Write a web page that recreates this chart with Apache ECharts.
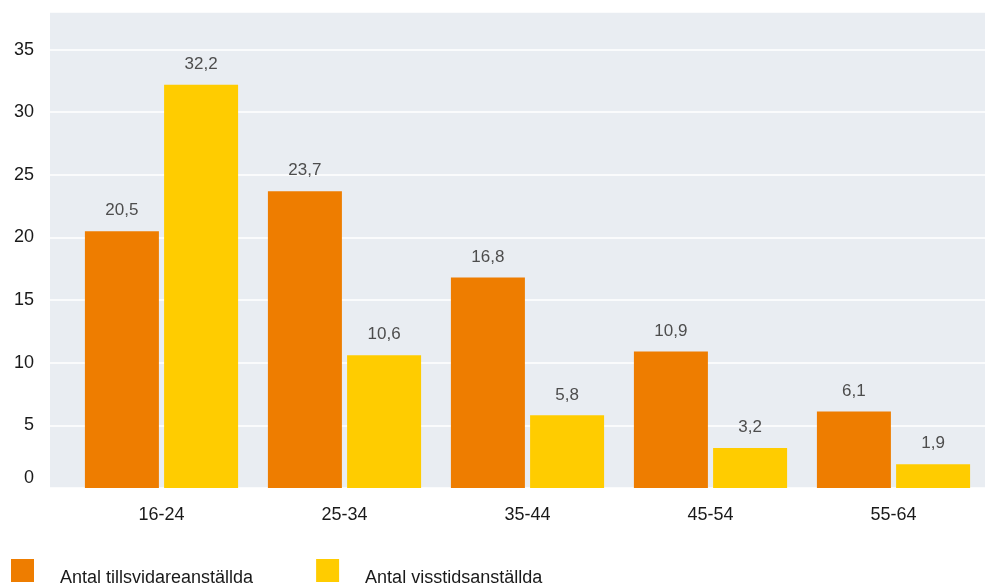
<!DOCTYPE html>
<html>
<head>
<meta charset="utf-8">
<script src="https://cdn.jsdelivr.net/npm/echarts@6/dist/echarts.min.js"></script>
<style>
  html, body { margin: 0; padding: 0; background: #fff; }
  #chart { width: 985px; height: 584px; }
</style>
</head>
<body>
<div id="chart"></div>
<script>
const categories = ['16-24', '25-34', '35-44', '45-54', '55-64'];
const seriesNames = ['Antal tillsvidareanställda', 'Antal visstidsanställda'];
const permanent = [20.5, 23.7, 16.8, 10.9, 6.1];
const temporary = [32.2, 10.6, 5.8, 3.2, 1.9];

const chart = echarts.init(document.getElementById('chart'));
const font = '"Liberation Sans", Arial, sans-serif';
const fmt = p => String(p.value).replace('.', ',');

const barLabel = {
  show: true,
  position: 'top',
  distance: 12,
  color: '#4d4d4d',
  fontSize: 17,
  fontFamily: font,
  formatter: fmt
};

const option = {
  animation: false,
  grid: [
    { left: 50, right: 0, top: 12, bottom: 96, show: true, backgroundColor: '#e9edf2', borderWidth: 0 },
    { left: 70, right: 0, top: 12, bottom: 96 }
  ],
  legend: {
    left: 6,
    top: 554,
    itemWidth: 23,
    itemHeight: 23,
    itemGap: 63,
    icon: 'rect',
    selectedMode: false,
    formatter: name => '{t|' + name + '}',
    textStyle: {
      fontSize: 18,
      color: '#1a1a1a',
      fontFamily: font,
      padding: [0, 0, 0, 21],
      rich: { t: { fontSize: 18, color: '#1a1a1a', fontFamily: font, padding: [16, 0, 0, 0] } }
    },
    data: seriesNames
  },
  xAxis: [
    { gridIndex: 0, type: 'value', show: false },
    {
      gridIndex: 1,
      type: 'category',
      data: categories,
      axisLine: { show: false },
      axisTick: { show: false },
      axisLabel: { fontSize: 18, color: '#1a1a1a', fontFamily: font, margin: 18 }
    }
  ],
  yAxis: [
    {
      gridIndex: 0,
      type: 'value',
      min: 0,
      max: 38,
      interval: 5,
      axisLine: { show: false },
      axisTick: { show: false },
      splitLine: { lineStyle: { color: '#ffffff', width: 1.5 } },
      axisLabel: {
        fontSize: 18,
        color: '#1a1a1a',
        fontFamily: font,
        margin: 16,
        showMaxLabel: false,
        formatter: v => (v === 0 ? '{z|0}' : String(v)),
        rich: { z: { fontSize: 18, color: '#1a1a1a', fontFamily: font, padding: [0, 0, 20, 0] } }
      }
    },
    { gridIndex: 1, type: 'value', min: 0, max: 38, interval: 5, show: false }
  ],
  series: [
    {
      name: seriesNames[0],
      type: 'bar',
      xAxisIndex: 1,
      yAxisIndex: 1,
      barWidth: 74,
      barGap: '7%',
      itemStyle: { color: '#ee7d00' },
      label: barLabel,
      data: permanent
    },
    {
      name: seriesNames[1],
      type: 'bar',
      xAxisIndex: 1,
      yAxisIndex: 1,
      barWidth: 74,
      barGap: '7%',
      itemStyle: { color: '#ffcc00' },
      label: barLabel,
      data: temporary
    }
  ]
};

chart.setOption(option);
</script>
</body>
</html>
